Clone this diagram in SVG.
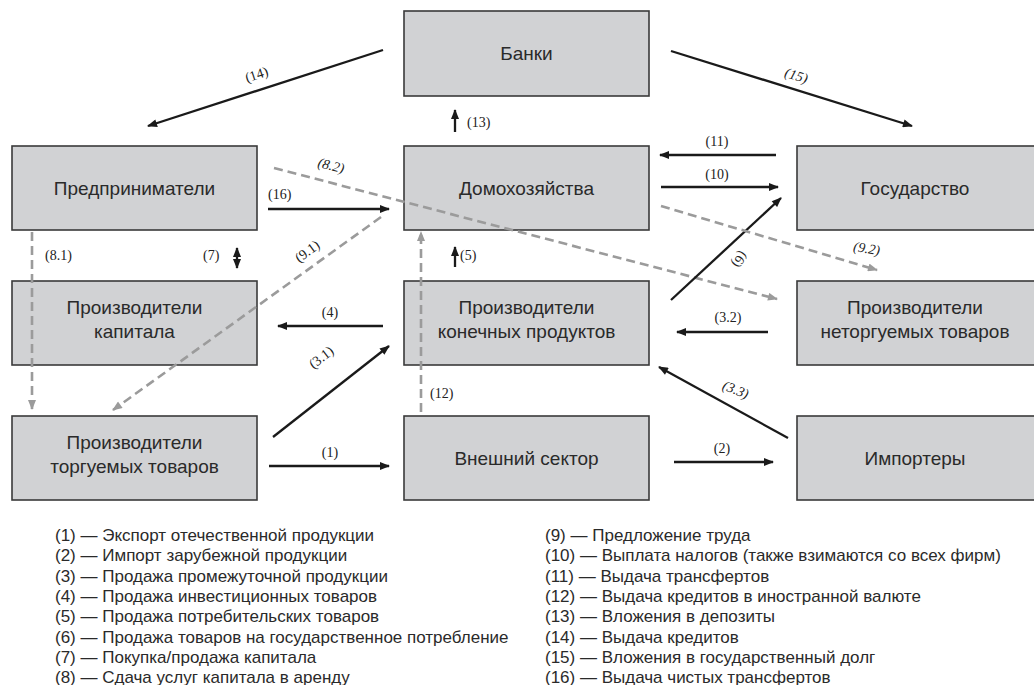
<svg xmlns="http://www.w3.org/2000/svg" width="1034" height="685" viewBox="0 0 1034 685">
<style>
.box{fill:#d1d2d4;stroke:#3a3a3a;stroke-width:1.6}
.bt{font-family:"Liberation Sans",Arial,sans-serif;font-size:19px;fill:#2a2a2a;text-anchor:middle}
.ln{stroke:#1a1a1a;stroke-width:2.3;fill:none;marker-end:url(#ah)}
.dl{stroke:#9b9b9b;stroke-width:2.6;fill:none;stroke-dasharray:9 5;marker-end:url(#ag)}
.lb{font-family:"Liberation Serif","Times New Roman",serif;font-size:14px;fill:#222}
.it{font-style:italic}
.lg{font-family:"Liberation Sans",Arial,sans-serif;font-size:17px;fill:#2a2a2a}
</style>
<defs>
<marker id="ah" viewBox="0 0 10 8" refX="9" refY="4" markerWidth="11" markerHeight="8" markerUnits="userSpaceOnUse" orient="auto-start-reverse"><path d="M0,0 L10,4 L0,8 z" fill="#1a1a1a"/></marker>
<marker id="ag" viewBox="0 0 10 8" refX="9" refY="4" markerWidth="11" markerHeight="8" markerUnits="userSpaceOnUse" orient="auto"><path d="M0,0 L10,4 L0,8 z" fill="#9b9b9b"/></marker>
</defs>

<g id="banks"><rect class="box" x="404" y="11" width="245" height="85"/><text class="bt" x="526.5" y="60">Банки</text></g>
<g id="entrepreneurs"><rect class="box" x="12" y="146" width="245" height="84"/><text class="bt" x="134.5" y="195">Предприниматели</text></g>
<g id="households"><rect class="box" x="404" y="146" width="245" height="84"/><text class="bt" x="526.5" y="195">Домохозяйства</text></g>
<g id="state"><rect class="box" x="797" y="146" width="245" height="84"/><text class="bt" x="915" y="195">Государство</text></g>
<g id="capital-producers"><rect class="box" x="12" y="281" width="245" height="84"/><text class="bt" x="134.5" y="314">Производители</text><text class="bt" x="134.5" y="338">капитала</text></g>
<g id="final-producers"><rect class="box" x="404" y="281" width="245" height="84"/><text class="bt" x="526.5" y="314">Производители</text><text class="bt" x="526.5" y="338">конечных продуктов</text></g>
<g id="nontradable-producers"><rect class="box" x="797" y="281" width="245" height="84"/><text class="bt" x="915" y="314">Производители</text><text class="bt" x="915" y="338">неторгуемых товаров</text></g>
<g id="tradable-producers"><rect class="box" x="12" y="416" width="245" height="84"/><text class="bt" x="134.5" y="449">Производители</text><text class="bt" x="134.5" y="473">торгуемых товаров</text></g>
<g id="foreign-sector"><rect class="box" x="404" y="416" width="245" height="84"/><text class="bt" x="526.5" y="465">Внешний сектор</text></g>
<g id="importers"><rect class="box" x="797" y="416" width="245" height="84"/><text class="bt" x="915" y="465">Импортеры</text></g>

<g id="connectors">
<path class="ln" d="M383,50 L148,126"/>
<path class="ln" d="M671,51 L912,126"/>
<path class="ln" d="M455,132 L455,110"/>
<path class="ln" d="M268,209 L389,209"/>
<path class="dl" d="M274,168 L777,299"/>
<path class="dl" d="M381,217 L113,410"/>
<path class="ln" d="M776,155 L660,155"/>
<path class="ln" d="M661,187 L778,187"/>
<path class="ln" d="M671,300 L781,198"/>
<path class="dl" d="M661,206 L877,270"/>
<path class="dl" d="M32,232 L32,409"/>
<path class="ln" d="M237,248 L237,268" style="marker-start:url(#ah)"/>
<path class="ln" d="M455,267 L455,247"/>
<path class="dl" d="M421,412 L421,232"/>
<path class="ln" d="M383,326 L278,326"/>
<path class="ln" d="M273,437 L389,346"/>
<path class="ln" d="M269,466 L389,466"/>
<path class="ln" d="M768,332 L677,332"/>
<path class="ln" d="M788,438 L659,367"/>
<path class="ln" d="M674,462 L773,462"/>
</g>

<g id="connector-labels">
<text class="lb" text-anchor="middle" transform="translate(258,79) rotate(-18)">(14)</text>
<text class="lb it" text-anchor="middle" transform="translate(795,80) rotate(17)">(15)</text>
<text class="lb" x="467" y="127">(13)</text>
<text class="lb" x="268" y="199">(16)</text>
<text class="lb it" text-anchor="middle" transform="translate(330,170) rotate(14)">(8.2)</text>
<text class="lb" text-anchor="middle" transform="translate(310,255) rotate(-36)">(9.1)</text>
<text class="lb" x="717" y="146" text-anchor="middle">(11)</text>
<text class="lb" x="717" y="179" text-anchor="middle">(10)</text>
<text class="lb" text-anchor="middle" transform="translate(736,257) rotate(125)">(6)</text>
<text class="lb it" text-anchor="middle" transform="translate(866,253) rotate(10)">(9.2)</text>
<text class="lb" x="45" y="260">(8.1)</text>
<text class="lb" x="203" y="260">(7)</text>
<text class="lb" x="460" y="260">(5)</text>
<text class="lb" x="430" y="398">(12)</text>
<text class="lb" x="330" y="317" text-anchor="middle">(4)</text>
<text class="lb" text-anchor="middle" transform="translate(324,361) rotate(-38)">(3.1)</text>
<text class="lb" x="330" y="457" text-anchor="middle">(1)</text>
<text class="lb" x="728" y="322" text-anchor="middle">(3.2)</text>
<text class="lb it" text-anchor="middle" transform="translate(734,394) rotate(22)">(3.3)</text>
<text class="lb" x="722" y="453" text-anchor="middle">(2)</text>
</g>

<g id="legend">
<text class="lg" x="55" y="541">(1) — Экспорт отечественной продукции</text>
<text class="lg" x="55" y="561">(2) — Импорт зарубежной продукции</text>
<text class="lg" x="55" y="582">(3) — Продажа промежуточной продукции</text>
<text class="lg" x="55" y="602">(4) — Продажа инвестиционных товаров</text>
<text class="lg" x="55" y="622">(5) — Продажа потребительских товаров</text>
<text class="lg" x="55" y="643">(6) — Продажа товаров на государственное потребление</text>
<text class="lg" x="55" y="663">(7) — Покупка/продажа капитала</text>
<text class="lg" x="55" y="683">(8) — Сдача услуг капитала в аренду</text>
<text class="lg" x="545" y="541">(9) — Предложение труда</text>
<text class="lg" x="545" y="561">(10) — Выплата налогов (также взимаются со всех фирм)</text>
<text class="lg" x="545" y="582">(11) — Выдача трансфертов</text>
<text class="lg" x="545" y="602">(12) — Выдача кредитов в иностранной валюте</text>
<text class="lg" x="545" y="622">(13) — Вложения в депозиты</text>
<text class="lg" x="545" y="643">(14) — Выдача кредитов</text>
<text class="lg" x="545" y="663">(15) — Вложения в государственный долг</text>
<text class="lg" x="545" y="683">(16) — Выдача чистых трансфертов</text>
</g>
</svg>
